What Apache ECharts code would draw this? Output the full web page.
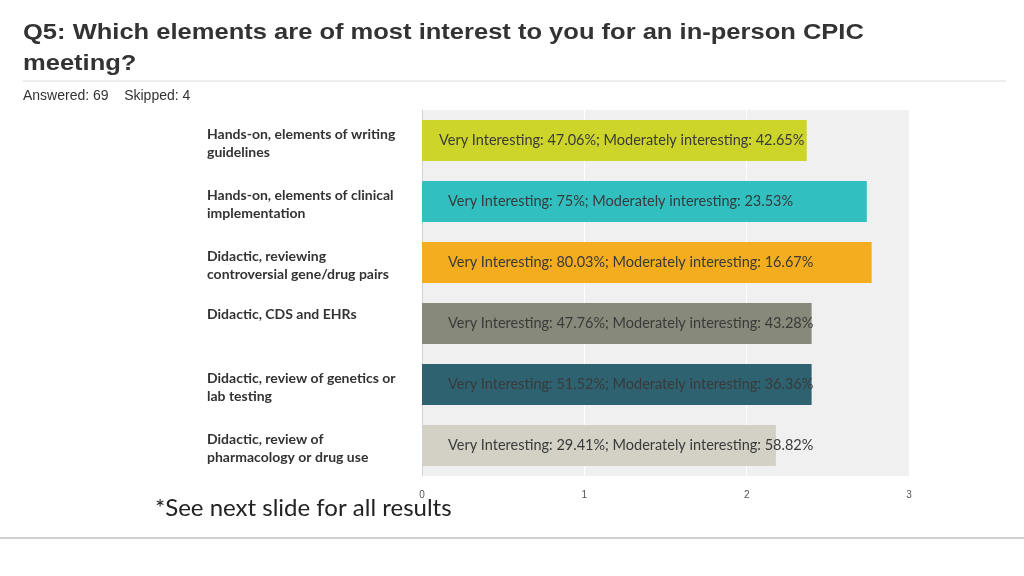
<!DOCTYPE html>
<html>
<head>
<meta charset="utf-8">
<script src="https://cdn.jsdelivr.net/npm/echarts@6/dist/echarts.min.js"></script>
<style>
  html, body { margin: 0; padding: 0; background: #fff; }
  #chart { width: 1024px; height: 576px; }
</style>
</head>
<body>
<div id="chart"></div>
<script>
// survey items, top to bottom
const categories = [
  'Hands-on, elements of writing\nguidelines',
  'Hands-on, elements of clinical\nimplementation',
  'Didactic, reviewing\ncontroversial gene/drug pairs',
  'Didactic, CDS and EHRs',
  'Didactic, review of genetics or\nlab testing',
  'Didactic, review of\npharmacology or drug use'
];
// weighted average score (0-3 scale)
const scores = [2.37, 2.74, 2.77, 2.40, 2.40, 2.18];
// percentages shown inside the bars
const veryInteresting = [47.06, 75, 80.03, 47.76, 51.52, 29.41];
const moderatelyInteresting = [42.65, 23.53, 16.67, 43.28, 36.36, 58.82];
const xTicks = [0, 1, 2, 3];

const barColors = ['#cdd52b', '#31bfc0', '#f3ad1f', '#878a7a', '#2e6271', '#d3d1c5'];

const chart = echarts.init(document.getElementById('chart'));

// category labels: two-line ones get a small spacer on top so they sit a
// little lower, single-line ones get an empty second line so they sit high
function categoryLabel(v) {
  const lines = v.split('\n');
  if (lines.length === 1) {
    return '{t|' + lines[0] + '}\n{t| }';
  }
  return '{pad| }\n' + lines.map((l) => '{t|' + l + '}').join('\n');
}

chart.setOption({
  backgroundColor: '#fff',
  animation: false,
  graphic: [
    {
      // the slide title is a bit wider than the font, so stretch it
      type: 'text',
      x: 23,
      y: 17,
      scaleX: 1.16,
      style: {
        text: 'Q5: Which elements are of most interest to you for an in-person CPIC\nmeeting?',
        font: 'bold 22px "Liberation Sans"',
        lineHeight: 31,
        fill: '#333'
      }
    },
    {
      type: 'line',
      shape: { x1: 23, y1: 81, x2: 1006, y2: 81 },
      style: { stroke: '#dcdcdc', lineWidth: 1 }
    },
    {
      type: 'text',
      left: 23,
      top: 89,
      style: {
        text: 'Answered: 69    Skipped: 4',
        font: '14px "Liberation Sans"',
        fill: '#333'
      }
    },
    {
      type: 'text',
      left: 155,
      top: 496,
      style: {
        text: '*See next slide for all results',
        font: '24px Lato',
        fill: '#222'
      }
    },
    {
      type: 'line',
      shape: { x1: 0, y1: 538, x2: 1024, y2: 538 },
      style: { stroke: '#d0d0d0', lineWidth: 2 }
    }
  ],
  grid: {
    left: 422,
    right: 115,
    top: 110,
    height: 366,
    show: true,
    backgroundColor: '#f0f0f0',
    borderWidth: 0
  },
  xAxis: {
    type: 'value',
    min: 0,
    max: 3,
    interval: 1,
    axisLine: { show: false },
    axisTick: { show: false },
    splitLine: { lineStyle: { color: '#ffffff', width: 1 } },
    axisLabel: {
      margin: 14,
      fontFamily: 'Liberation Sans Narrow, Liberation Sans',
      fontSize: 10,
      color: '#555',
      formatter: (v) => (xTicks.includes(v) ? String(v) : '')
    }
  },
  yAxis: {
    type: 'category',
    inverse: true,
    data: categories,
    axisLine: { show: true, lineStyle: { color: '#d4d4d4', width: 1 } },
    axisTick: { show: false },
    axisLabel: {
      align: 'left',
      verticalAlign: 'middle',
      margin: 215,
      formatter: categoryLabel,
      rich: {
        t: {
          fontFamily: 'Lato',
          fontWeight: 'bold',
          fontSize: 14,
          lineHeight: 18,
          color: '#333'
        },
        pad: {
          fontSize: 4,
          lineHeight: 6
        }
      }
    }
  },
  series: [{
    type: 'bar',
    barWidth: 41,
    data: scores.map((v, i) => ({
      value: v,
      itemStyle: { color: barColors[i] },
      label: { distance: i === 0 ? 17 : 26 }
    })),
    label: {
      show: true,
      position: 'insideLeft',
      fontFamily: 'Lato',
      fontSize: 14.5,
      color: '#3a3a3a',
      formatter: (p) => 'Very Interesting: ' + veryInteresting[p.dataIndex] +
        '%; Moderately interesting: ' + moderatelyInteresting[p.dataIndex] + '%'
    }
  }]
});
</script>
</body>
</html>
